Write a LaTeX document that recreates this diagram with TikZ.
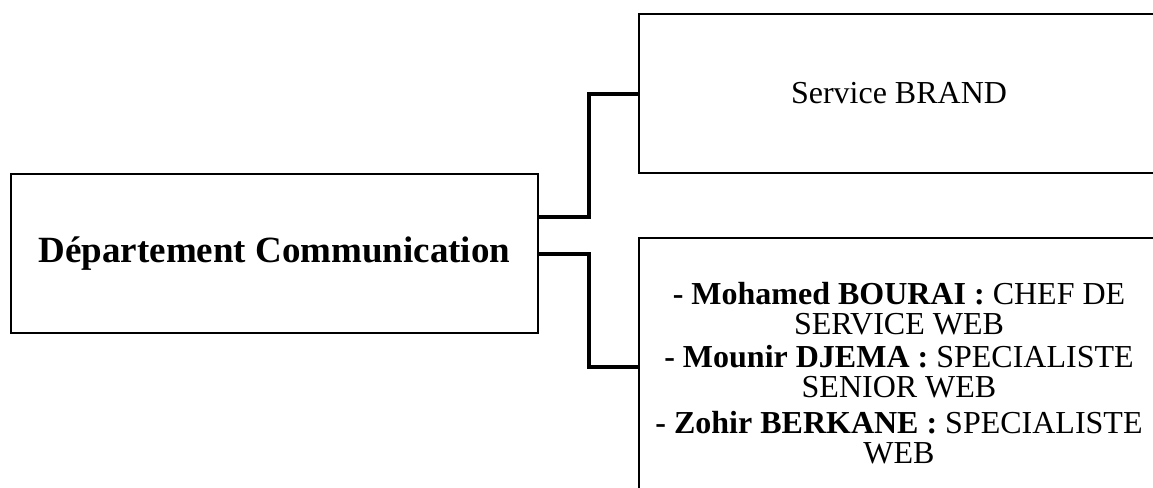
\documentclass[tikz,border=0pt]{standalone}
\usepackage{fontspec}
\setmainfont{Liberation Serif}
\usetikzlibrary{positioning}

\begin{document}
\begin{tikzpicture}[x=1pt, y=-1pt,
    box/.style={draw, line width=2pt, rectangle, inner sep=0pt, anchor=north west, align=center},
    link/.style={line width=4pt},
    bigtxt/.style={font=\fontsize{37}{44}\selectfont\bfseries},
    smalltxt/.style={font=\fontsize{32}{30}\selectfont}]
	\useasboundingbox (0,0) rectangle (1153,487);
	\clip (0,0) rectangle (1153,487);

	\node[box, minimum width=527pt, minimum height=159pt, bigtxt] (dept) at (10,173) {Département Communication};
	\node[box, minimum width=520pt, minimum height=159pt, smalltxt] (brand) at (638,13) {Service BRAND};
	\node[box, minimum width=520pt, minimum height=270pt, smalltxt] (web) at (638,237) {\textbf{- Mohamed BOURAI :} CHEF DE\\
		SERVICE WEB\\[3pt]
		\textbf{- Mounir DJEMA :} SPECIALISTE\\
		SENIOR WEB\\[6pt]
		\textbf{- Zohir BERKANE :} SPECIALISTE\\
		WEB};

	\draw[link] ([yshift=37pt]dept.east) -- ++(50,0) |- (brand.west);
	\draw[link] (dept.east) -- ++(50,0) |- ([yshift=6pt]web.west);
\end{tikzpicture}
\end{document}
